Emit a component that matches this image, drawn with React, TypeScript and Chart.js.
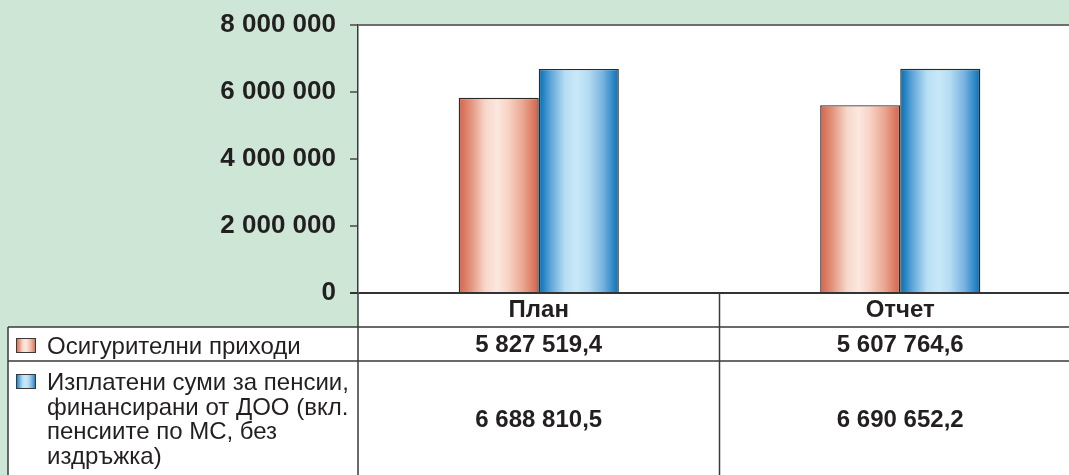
import React, { useEffect, useRef } from "react";
import { Chart, registerables } from "chart.js";

Chart.register(...registerables);

// ---- data ----
const categories = ["План", "Отчет"];
const seriesNames = [
  "Осигурителни приходи",
  "Изплатени суми за пенсии, финансирани от ДОО (вкл. пенсиите по МС, без издръжка)",
];
const legendLines = [
  ["Осигурителни приходи"],
  ["Изплатени суми за пенсии,", "финансирани от ДОО (вкл.", "пенсиите по МС, без", "издръжка)"],
];
const revenues = [5827519.4, 5607764.6];
const pensions = [6688810.5, 6690652.2];
const yTicks = [0, 2000000, 4000000, 6000000, 8000000];

// ---- style ----
const GREEN = "#cde6d5";
const TEXT = "#231f20";
const LINE = "#3a3a3a";
const FONT = '"Liberation Sans", Arial, Helvetica, sans-serif';
const CAT_PCT = 0.443;
const CANVAS_W = 1081;
const CANVAS_H = 475;
const TABLE_LEFT = 8;
const HEADER_H = 34;
const ROW1_H = 34;

const redStops: [number, string][] = [
  [0, "#d5634b"],
  [0.15, "#e3927b"],
  [0.33, "#f7d6c9"],
  [0.48, "#fce8df"],
  [0.62, "#f7d3c5"],
  [0.8, "#eaa792"],
  [1, "#d3624a"],
];
const blueStops: [number, string][] = [
  [0, "#006db6"],
  [0.15, "#5ea5d9"],
  [0.33, "#b7def4"],
  [0.48, "#c8e8f8"],
  [0.62, "#b5dcf3"],
  [0.8, "#78b3e0"],
  [1, "#0570b9"],
];
const seriesStops = [redStops, blueStops];

function fmt(v: number, dec: number): string {
  const [i, d] = v.toFixed(dec).split(".");
  const g = i.replace(/\B(?=(\d{3})+(?!\d))/g, " ");
  return d ? g + "," + d : g;
}

function makeGradient(ctx: CanvasRenderingContext2D, x0: number, x1: number, stops: [number, string][]) {
  const g = ctx.createLinearGradient(x0, 0, x1, 0);
  stops.forEach(([o, c]) => g.addColorStop(o, c));
  return g;
}

function barGradient(stops: [number, string][]) {
  return (c: any) => {
    const chart = c.chart;
    const xs = chart.scales && chart.scales.x;
    if (!xs || c.dataIndex == null || !chart.chartArea) return stops[3][1];
    const n = categories.length;
    const catW = (xs.right - xs.left) / n;
    const bw = (catW * CAT_PCT) / 2;
    const center = xs.getPixelForValue(c.dataIndex);
    const left = c.datasetIndex === 0 ? center - bw : center;
    return makeGradient(chart.ctx, left, left + bw, stops);
  };
}

const tablePlugin = {
  id: "dataTable",
  beforeDraw(chart: any) {
    const { ctx, chartArea: ca, width, height } = chart;
    ctx.save();
    ctx.fillStyle = GREEN;
    ctx.fillRect(0, 0, width, height);
    ctx.fillStyle = "#ffffff";
    ctx.fillRect(ca.left, ca.top, width - ca.left, height - ca.top);
    ctx.fillRect(TABLE_LEFT, ca.bottom + HEADER_H, width - TABLE_LEFT, height);
    ctx.restore();
  },
  afterDraw(chart: any) {
    const { ctx, chartArea: ca, width, height } = chart;
    const xs = chart.scales.x;
    const row1Top = ca.bottom + HEADER_H;
    const row2Top = row1Top + ROW1_H;
    const centers = categories.map((_, i) => xs.getPixelForValue(i));
    const divider = (centers[0] + centers[1]) / 2;
    ctx.save();
    ctx.strokeStyle = LINE;
    ctx.lineWidth = 1.5;
    ctx.beginPath();
    ctx.moveTo(ca.left, ca.bottom);
    ctx.lineTo(ca.left, height);
    ctx.moveTo(divider, ca.bottom);
    ctx.lineTo(divider, height);
    ctx.moveTo(TABLE_LEFT, row1Top);
    ctx.lineTo(TABLE_LEFT, height);
    ctx.moveTo(TABLE_LEFT, row1Top);
    ctx.lineTo(width, row1Top);
    ctx.moveTo(TABLE_LEFT, row2Top);
    ctx.lineTo(width, row2Top);
    ctx.stroke();

    ctx.fillStyle = TEXT;
    ctx.textAlign = "center";
    ctx.textBaseline = "alphabetic";
    ctx.font = `bold 24px ${FONT}`;
    categories.forEach((c, i) => ctx.fillText(c, centers[i], ca.bottom + 24));
    revenues.forEach((v, i) => ctx.fillText(fmt(v, 1), centers[i], row1Top + 25));
    pensions.forEach((v, i) => ctx.fillText(fmt(v, 1), centers[i], row2Top + 66));

    ctx.textAlign = "left";
    ctx.font = `24px ${FONT}`;
    const baselines = [[row1Top + 27], [0, 1, 2, 3].map((k) => row2Top + 29 + k * 24.5)];
    legendLines.forEach((lines, s) => {
      const b0 = baselines[s][0];
      const sx = 16, sw = 20, sh = 15;
      const sy = b0 - 16;
      ctx.fillStyle = makeGradient(ctx, sx, sx + sw, seriesStops[s]);
      ctx.fillRect(sx, sy, sw, sh);
      ctx.strokeStyle = LINE;
      ctx.lineWidth = 1;
      ctx.strokeRect(sx + 0.5, sy + 0.5, sw - 1, sh - 1);
      ctx.fillStyle = TEXT;
      lines.forEach((t, k) => ctx.fillText(t, 47, baselines[s][k]));
    });
    ctx.restore();
  },
};

export default function App() {
  const ref = useRef<HTMLCanvasElement>(null);
  useEffect(() => {
    const chart = new Chart(ref.current as HTMLCanvasElement, {
      type: "bar",
      data: {
        labels: categories,
        datasets: [
          {
            label: seriesNames[0],
            data: revenues,
            backgroundColor: barGradient(redStops),
            borderColor: "#2a2a2a",
            borderWidth: 1.4,
            categoryPercentage: CAT_PCT,
            barPercentage: 1,
          },
          {
            label: seriesNames[1],
            data: pensions,
            backgroundColor: barGradient(blueStops),
            borderColor: "#2a2a2a",
            borderWidth: 1.4,
            categoryPercentage: CAT_PCT,
            barPercentage: 1,
          },
        ],
      },
      options: {
        responsive: false,
        animation: false,
        devicePixelRatio: 1,
        layout: { padding: { top: 25, left: 0, right: 0, bottom: CANVAS_H - 293 } },
        plugins: { legend: { display: false }, tooltip: { enabled: false } },
        scales: {
          x: { display: false },
          y: {
            min: 0,
            max: 8000000,
            afterBuildTicks: (scale: any) => {
              scale.ticks = yTicks.map((v) => ({ value: v }));
            },
            afterFit: (scale: any) => {
              scale.width = 358;
              scale.paddingTop = 0;
              scale.paddingBottom = 0;
            },
            border: { display: true, color: LINE, width: 1.5 },
            grid: {
              drawOnChartArea: true,
              drawTicks: true,
              tickLength: 8,
              color: (c: any) =>
                c.tick && c.tick.value === 0
                  ? "#333333"
                  : c.tick && c.tick.value === 8000000
                  ? "#6d6d6d"
                  : "rgba(0,0,0,0)",
              tickColor: (c: any) => (c.tick && c.tick.value === 0 ? "#333333" : "#6d6d6d"),
              lineWidth: 2,
            },
            ticks: {
              padding: 14,
              color: TEXT,
              font: { family: FONT, size: 26, weight: "bold" },
              callback: (v: any) => fmt(Number(v), 0),
            },
          },
        },
      },
      plugins: [tablePlugin],
    });
    return () => chart.destroy();
  }, []);

  return (
    <div
      style={{
        position: "fixed",
        left: 0,
        top: 0,
        width: 1069,
        height: 475,
        overflow: "hidden",
        background: GREEN,
      }}
    >
      <canvas ref={ref} width={CANVAS_W} height={CANVAS_H} style={{ display: "block" }} />
    </div>
  );
}
